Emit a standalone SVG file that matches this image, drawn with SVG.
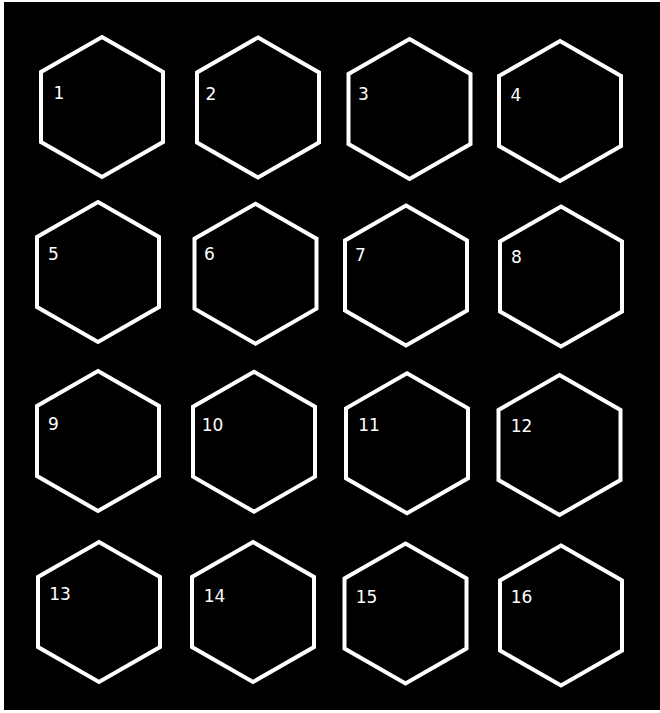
<svg xmlns="http://www.w3.org/2000/svg" xmlns:xlink="http://www.w3.org/1999/xlink" width="660" height="713" viewBox="0 0 660 713">
<style>
.hex{fill:none;stroke:#ffffff;stroke-width:4;stroke-linejoin:miter}
.lbl{fill:#ffffff;font-family:"DejaVu Sans","Liberation Sans",sans-serif;font-size:17px;text-anchor:middle}
</style>
<defs>
<polygon id="h" class="hex" points="0,-70 61,-35 61,35 0,70 -61,35 -61,-35"/>
</defs>
<rect x="0" y="0" width="660" height="713" fill="#ffffff"/>
<rect x="4" y="2" width="656" height="708" fill="#000000"/>
<g id="connectors"></g>
<g id="n1"><use xlink:href="#h" transform="translate(102,107)"/><text class="lbl" x="59" y="99">1</text></g>
<g id="n2"><use xlink:href="#h" transform="translate(258,107.5)"/><text class="lbl" x="211" y="99.5">2</text></g>
<g id="n3"><use xlink:href="#h" transform="translate(409.5,109)"/><text class="lbl" x="363.5" y="100">3</text></g>
<g id="n4"><use xlink:href="#h" transform="translate(560,111)"/><text class="lbl" x="516" y="101">4</text></g>
<g id="n5"><use xlink:href="#h" transform="translate(98,272)"/><text class="lbl" x="53.5" y="259.5">5</text></g>
<g id="n6"><use xlink:href="#h" transform="translate(255.5,273.7)"/><text class="lbl" x="209.5" y="259.5">6</text></g>
<g id="n7"><use xlink:href="#h" transform="translate(406,275.5)"/><text class="lbl" x="360.5" y="261">7</text></g>
<g id="n8"><use xlink:href="#h" transform="translate(561,276.5)"/><text class="lbl" x="516.5" y="263">8</text></g>
<g id="n9"><use xlink:href="#h" transform="translate(98,441)"/><text class="lbl" x="53.5" y="429.5">9</text></g>
<g id="n10"><use xlink:href="#h" transform="translate(254,441.7)"/><text class="lbl" x="212.5" y="430.5">10</text></g>
<g id="n11"><use xlink:href="#h" transform="translate(407,443.3)"/><text class="lbl" x="369" y="431">11</text></g>
<g id="n12"><use xlink:href="#h" transform="translate(559.5,445)"/><text class="lbl" x="521.5" y="432">12</text></g>
<g id="n13"><use xlink:href="#h" transform="translate(99,612)"/><text class="lbl" x="60" y="599.5">13</text></g>
<g id="n14"><use xlink:href="#h" transform="translate(253,612)"/><text class="lbl" x="214.5" y="602">14</text></g>
<g id="n15"><use xlink:href="#h" transform="translate(405.5,613.5)"/><text class="lbl" x="366.5" y="603">15</text></g>
<g id="n16"><use xlink:href="#h" transform="translate(561,615.5)"/><text class="lbl" x="521.5" y="603">16</text></g>
</svg>
